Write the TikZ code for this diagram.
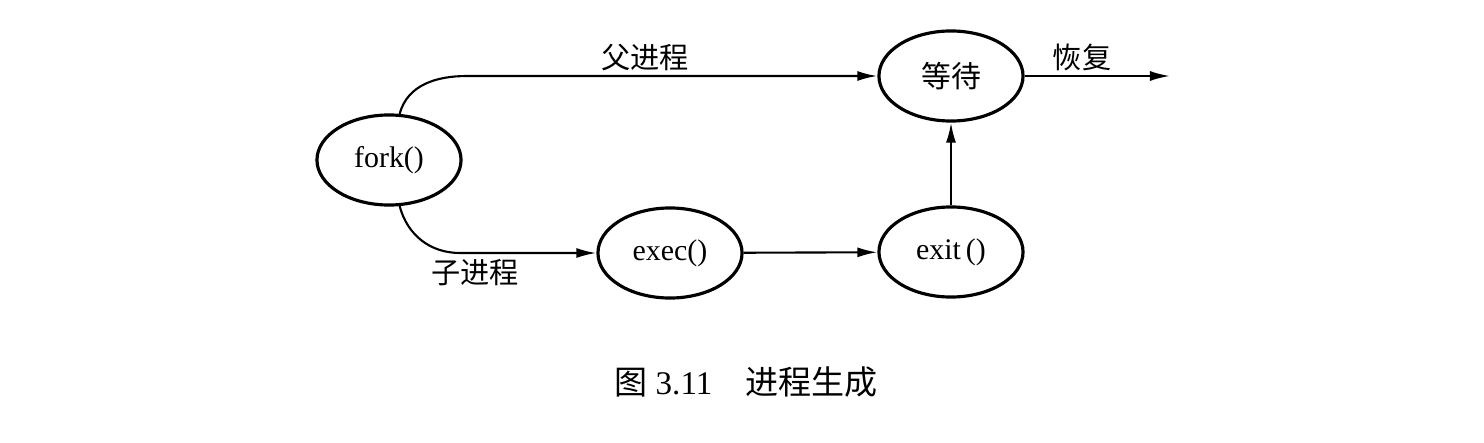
\documentclass[tikz,border=0pt]{standalone}
\usepackage{fontspec}
\setmainfont{Liberation Serif}
\newfontfamily\cjk{Noto Sans CJK SC}
\usetikzlibrary{shapes.geometric,arrows.meta}

\tikzset{
  proc/.style={ellipse,draw,line width=0.9pt,minimum width=1.44cm,minimum height=0.9cm,inner sep=0pt,font=\fontsize{8.5}{10}\selectfont},
  flow/.style={line width=0.6pt,-{Latex[length=2mm,width=1mm]}},
  lbl/.style={font=\fontsize{8.3}{10}\selectfont\cjk}
}

\begin{document}
\begin{tikzpicture}[x=0.01cm,y=0.01cm]
	\useasboundingbox (0,0) rectangle (1484,442);
	\node (fork) at (389,282) [proc] {fork()};
	\node (wait) at (951,366) [proc] {\cjk 等待};
	\node (exec) at (670,189) [proc] {exec()};
	\node (exit) at (951,190) [proc] {exit\,()};

	\coordinate (up) at (467,366);
	\coordinate (dn) at (460,189);
	\coordinate (resume) at (1170,366);

	\draw[flow] (fork.77) to[out=75,in=180] (up) -- (wait.west);
	\draw[flow] (fork.-77) to[out=-75,in=180] (dn) -- (exec.west);
	\draw[flow] (exec) -- (exit);
	\draw[flow] (exit) -- (wait);
	\draw[flow] (wait) -- (resume);

	\node[lbl] at (645,384) {父进程};
	\node[lbl] at (475,169) {子进程};
	\node[lbl] at (1082,385) {恢复};

	% caption
	\node (cap) at (746,60) [font=\fontsize{9.4}{11}\selectfont] {{\cjk 图} 3.11\hspace{1em}{\cjk 进程生成}};
\end{tikzpicture}
\end{document}
